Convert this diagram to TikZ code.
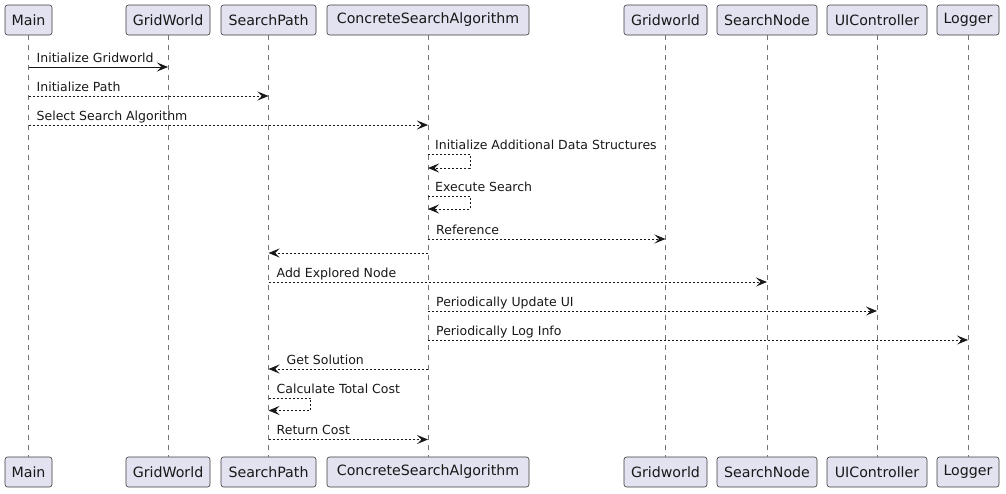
\documentclass[tikz,border=0pt]{standalone}
\usepackage{fontspec}
\setmainfont{DejaVu Sans}
\usetikzlibrary{arrows.meta}
\definecolor{partfill}{HTML}{E2E2F0}
\definecolor{ink}{HTML}{181818}
\begin{document}
\begin{tikzpicture}[x=1pt,y=-1pt,
  part/.style={draw=ink!85, fill=partfill, rounded corners=2.5pt, line width=0.6pt,
    minimum height=30pt, inner sep=0pt, font=\fontsize{14.2}{16}\selectfont, text=ink},
  life/.style={draw=ink!60, line width=0.7pt, dash pattern=on 5pt off 5pt},
  msg/.style={draw=ink, line width=0.9pt, -{Stealth[length=11pt,width=9pt,inset=4.5pt]}},
  ret/.style={msg, dash pattern=on 2pt off 2pt},
  lbl/.style={anchor=base west, inner sep=0pt, font=\fontsize{12.5}{15}\selectfont, text=ink}]
\useasboundingbox (0,0) rectangle (1006,493);
% participants top
\node[part, minimum width=47pt]  (mainT) at (28.5,20)  {Main};
\node[part, minimum width=84pt]  (gwT)   at (168,20)   {GridWorld};
\node[part, minimum width=95pt]  (spT)   at (268.5,20) {SearchPath};
\node[part, minimum width=202pt] (csT)   at (428,20)   {ConcreteSearchAlgorithm};
\node[part, minimum width=83pt]  (gw2T)  at (665.5,20) {Gridworld};
\node[part, minimum width=100pt] (snT)   at (767,20)   {SearchNode};
\node[part, minimum width=100pt] (uiT)   at (877,20)   {UIController};
\node[part, minimum width=62pt]  (lgT)   at (968,20)   {Logger};
% participants bottom
\node[part, minimum width=47pt]  (mainB) at (28.5,472)  {Main};
\node[part, minimum width=84pt]  (gwB)   at (168,472)   {GridWorld};
\node[part, minimum width=95pt]  (spB)   at (268.5,472) {SearchPath};
\node[part, minimum width=202pt] (csB)   at (428,472)   {ConcreteSearchAlgorithm};
\node[part, minimum width=83pt]  (gw2B)  at (665.5,472) {Gridworld};
\node[part, minimum width=100pt] (snB)   at (767,472)   {SearchNode};
\node[part, minimum width=100pt] (uiB)   at (877,472)   {UIController};
\node[part, minimum width=62pt]  (lgB)   at (968,472)   {Logger};
% lifelines
\foreach \p in {main,gw,sp,cs,gw2,sn,ui,lg}
  \draw[life] (\p T.south) -- (\p B.north);
% message rows
\coordinate (r1) at (0,67);
\coordinate (r2) at (0,96);
\coordinate (r3) at (0,125);
\coordinate (r4a) at (0,154);
\coordinate (r4b) at (0,168);
\coordinate (r5a) at (0,196);
\coordinate (r5b) at (0,209);
\coordinate (r6) at (0,239);
\coordinate (r7) at (0,253);
\coordinate (r8) at (0,282);
\coordinate (r9) at (0,311);
\coordinate (r10) at (0,340);
\coordinate (r11) at (0,369);
\coordinate (r12a) at (0,398);
\coordinate (r12b) at (0,410.5);
\coordinate (r13) at (0,439.5);
% messages
\draw[msg] (mainT |- r1) -- (gwT |- r1);
\node[lbl] (l1) at ([xshift=8pt,yshift=5pt]mainT |- r1) {Initialize Gridworld};
\draw[ret] (mainT |- r2) -- (spT |- r2);
\node[lbl] (l2) at ([xshift=8pt,yshift=5pt]mainT |- r2) {Initialize Path};
\draw[ret] (mainT |- r3) -- (csT |- r3);
\node[lbl] (l3) at ([xshift=8pt,yshift=5pt]mainT |- r3) {Select Search Algorithm};
\draw[ret] (csT |- r4a) -- ++(42,0) |- (csT |- r4b);
\node[lbl] (l4) at ([xshift=7pt,yshift=5pt]csT |- r4a) {Initialize Additional Data Structures};
\draw[ret] (csT |- r5a) -- ++(42,0) |- (csT |- r5b);
\node[lbl] (l5) at ([xshift=7pt,yshift=5pt]csT |- r5a) {Execute Search};
\draw[ret] (csT |- r6) -- (gw2T |- r6);
\node[lbl] (l6) at ([xshift=8pt,yshift=5pt]csT |- r6) {Reference};
\draw[ret] (csT |- r7) -- (spT |- r7);
\draw[ret] (spT |- r8) -- (snT |- r8);
\node[lbl] (l8) at ([xshift=8pt,yshift=5pt]spT |- r8) {Add Explored Node};
\draw[ret] (csT |- r9) -- (uiT |- r9);
\node[lbl] (l9) at ([xshift=8pt,yshift=5pt]csT |- r9) {Periodically Update UI};
\draw[ret] (csT |- r10) -- (lgT |- r10);
\node[lbl] (l10) at ([xshift=8pt,yshift=5pt]csT |- r10) {Periodically Log Info};
\draw[ret] (csT |- r11) -- (spT |- r11);
\node[lbl] (l11) at ([xshift=18pt,yshift=5pt]spT |- r11) {Get Solution};
\draw[ret] (spT |- r12a) -- ++(42,0) |- (spT |- r12b);
\node[lbl] (l12) at ([xshift=8pt,yshift=5pt]spT |- r12a) {Calculate Total Cost};
\draw[ret] (spT |- r13) -- (csT |- r13);
\node[lbl] (l13) at ([xshift=8pt,yshift=5pt]spT |- r13) {Return Cost};
\end{tikzpicture}
\end{document}
